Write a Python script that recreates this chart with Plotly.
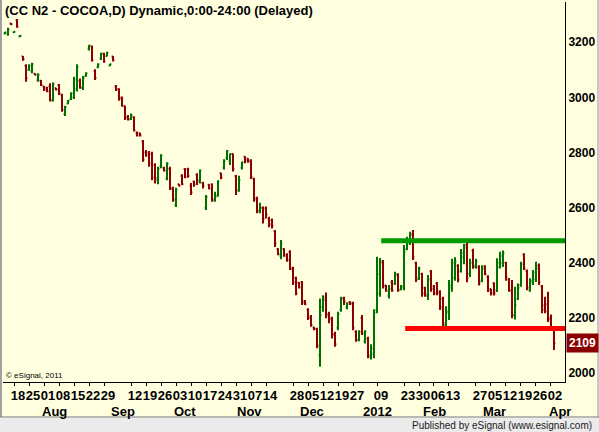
import pandas as pd
import plotly.graph_objects as go

# trading calendar (ICE cocoa closed on these weekdays)
holidays = ["2011-09-05", "2011-11-24", "2011-12-26", "2012-01-02", "2012-01-16", "2012-02-20"]
dates = [d.strftime("%Y-%m-%d") for d in pd.bdate_range("2011-07-13", "2012-04-03")
         if d.strftime("%Y-%m-%d") not in holidays]

opens = [
    3232, 3228, 3268, 3236, 3280, 3221, 3148, 3115, 3100, 3095,
    3086, 3062, 3060, 3040, 3035, 3040, 2990, 3033, 3045, 3010,
    2940, 2978, 2995, 3000, 3030, 3060, 3035, 3078, 3175, 3185,
    3095, 3110, 3140, 3158, 3150, 3116, 3148, 3040, 3030, 3000,
    2968, 2930, 2922, 2928, 2870, 2870, 2840, 2800, 2800, 2795,
    2755, 2700, 2750, 2745, 2705, 2740, 2670, 2610, 2685, 2715,
    2740, 2740, 2680, 2695, 2720, 2700, 2690, 2600, 2683, 2685,
    2625, 2645, 2725, 2745, 2780, 2770, 2795, 2715, 2665, 2745,
    2785, 2778, 2772, 2705, 2635, 2585, 2600, 2598, 2560, 2555,
    2515, 2450, 2425, 2450, 2425, 2440, 2380, 2345, 2328, 2330,
    2262, 2230, 2205, 2166, 2160, 2065, 2240, 2265, 2215, 2200,
    2140, 2165, 2230, 2272, 2238, 2258, 2255, 2150, 2120, 2200,
    2115, 2125, 2060, 2070, 2230, 2290, 2400, 2318, 2280, 2330,
    2325, 2355, 2303, 2310, 2450, 2470, 2505, 2400, 2345, 2360,
    2310, 2280, 2370, 2315, 2325, 2295, 2270, 2175, 2220, 2310,
    2345, 2390, 2370, 2420, 2465, 2360, 2445, 2385, 2385, 2335,
    2388, 2350, 2305, 2325, 2300, 2385, 2400, 2400, 2340, 2300,
    2210, 2270, 2320, 2430, 2370, 2300, 2330, 2340, 2390, 2315,
    2245, 2250, 2200, 2165,
]
highs = [
    3238, 3253, 3270, 3240, 3284, 3226, 3150, 3120, 3120, 3126,
    3088, 3088, 3063, 3041, 3039, 3051, 3054, 3035, 3049, 3013,
    2970, 2991, 3019, 3075, 3120, 3069, 3078, 3091, 3190, 3188,
    3102, 3124, 3162, 3162, 3166, 3122, 3150, 3045, 3033, 3003,
    2970, 2936, 2942, 2932, 2876, 2872, 2846, 2809, 2806, 2803,
    2761, 2749, 2794, 2749, 2765, 2749, 2676, 2672, 2686, 2721,
    2743, 2745, 2690, 2698, 2725, 2739, 2694, 2646, 2685, 2688,
    2658, 2700, 2727, 2776, 2809, 2797, 2797, 2719, 2716, 2767,
    2787, 2779, 2776, 2709, 2640, 2618, 2604, 2604, 2567, 2561,
    2519, 2453, 2483, 2453, 2435, 2446, 2386, 2350, 2331, 2334,
    2265, 2235, 2211, 2168, 2165, 2271, 2283, 2293, 2223, 2205,
    2150, 2223, 2277, 2277, 2257, 2261, 2259, 2156, 2156, 2211,
    2156, 2132, 2105, 2232, 2422, 2418, 2410, 2320, 2320, 2338,
    2368, 2362, 2320, 2465, 2495, 2513, 2519, 2404, 2386, 2364,
    2313, 2356, 2374, 2320, 2331, 2301, 2277, 2243, 2338, 2415,
    2420, 2395, 2450, 2468, 2478, 2415, 2451, 2415, 2391, 2391,
    2391, 2355, 2306, 2330, 2417, 2440, 2445, 2404, 2345, 2338,
    2313, 2325, 2404, 2435, 2376, 2344, 2374, 2404, 2398, 2320,
    2277, 2295, 2213, 2168,
]
lows = [
    3230, 3224, 3263, 3234, 3253, 3219, 3133, 3057, 3097, 3088,
    3080, 3057, 3041, 3023, 3019, 2985, 2985, 3025, 3009, 2948,
    2933, 2975, 2991, 2994, 3021, 3031, 3027, 3075, 3170, 3130,
    3063, 3106, 3136, 3126, 3148, 3114, 3130, 3023, 2988, 2966,
    2918, 2916, 2918, 2876, 2858, 2858, 2767, 2785, 2749, 2700,
    2688, 2685, 2743, 2731, 2700, 2664, 2622, 2603, 2678, 2682,
    2707, 2709, 2646, 2676, 2682, 2688, 2670, 2592, 2667, 2622,
    2622, 2640, 2703, 2739, 2773, 2755, 2731, 2646, 2658, 2739,
    2761, 2763, 2704, 2622, 2580, 2580, 2543, 2561, 2529, 2525,
    2458, 2428, 2413, 2422, 2404, 2374, 2320, 2283, 2307, 2247,
    2247, 2193, 2168, 2156, 2090, 2023, 2223, 2199, 2181, 2126,
    2096, 2156, 2223, 2247, 2232, 2247, 2156, 2114, 2116, 2138,
    2108, 2054, 2050, 2054, 2217, 2277, 2307, 2295, 2271, 2295,
    2320, 2295, 2301, 2301, 2446, 2465, 2410, 2331, 2338, 2277,
    2277, 2265, 2295, 2283, 2283, 2229, 2168, 2168, 2193, 2295,
    2335, 2330, 2365, 2395, 2330, 2349, 2379, 2379, 2318, 2330,
    2355, 2294, 2282, 2282, 2294, 2380, 2385, 2335, 2295, 2199,
    2195, 2265, 2313, 2374, 2301, 2295, 2320, 2331, 2320, 2217,
    2217, 2186, 2156, 2084,
]
closes = [
    3235, 3245, 3265, 3238, 3256, 3224, 3138, 3070, 3115, 3120,
    3082, 3082, 3045, 3028, 3022, 2990, 3050, 3029, 3015, 2955,
    2965, 2988, 3015, 3065, 3110, 3035, 3070, 3088, 3188, 3135,
    3070, 3120, 3158, 3130, 3162, 3120, 3135, 3030, 2995, 2970,
    2925, 2920, 2935, 2880, 2862, 2862, 2775, 2790, 2760, 2710,
    2708, 2740, 2790, 2735, 2760, 2670, 2630, 2665, 2680, 2685,
    2712, 2715, 2655, 2685, 2695, 2735, 2680, 2640, 2670, 2630,
    2640, 2695, 2710, 2770, 2805, 2795, 2740, 2660, 2700, 2765,
    2770, 2768, 2712, 2630, 2590, 2600, 2560, 2575, 2540, 2535,
    2470, 2432, 2470, 2430, 2410, 2380, 2330, 2290, 2312, 2255,
    2250, 2200, 2175, 2160, 2100, 2210, 2275, 2210, 2195, 2140,
    2105, 2215, 2270, 2260, 2252, 2252, 2165, 2120, 2150, 2145,
    2150, 2065, 2090, 2220, 2360, 2405, 2315, 2300, 2305, 2300,
    2360, 2300, 2315, 2440, 2485, 2500, 2420, 2340, 2380, 2290,
    2285, 2340, 2305, 2290, 2290, 2240, 2180, 2225, 2320, 2400,
    2405, 2340, 2435, 2455, 2345, 2400, 2390, 2405, 2325, 2380,
    2360, 2300, 2290, 2290, 2400, 2425, 2435, 2350, 2300, 2210,
    2245, 2310, 2395, 2380, 2310, 2335, 2365, 2380, 2330, 2230,
    2225, 2195, 2165, 2109,
]

tick_dates = [
    "2011-07-18", "2011-07-25", "2011-08-01", "2011-08-08", "2011-08-15", "2011-08-22",
    "2011-08-29", "2011-09-12", "2011-09-19", "2011-09-26", "2011-10-03", "2011-10-10",
    "2011-10-17", "2011-10-24", "2011-10-31", "2011-11-07", "2011-11-14", "2011-11-28",
    "2011-12-05", "2011-12-12", "2011-12-19", "2011-12-27", "2012-01-09", "2012-01-23",
    "2012-01-30", "2012-02-06", "2012-02-13", "2012-02-27", "2012-03-05", "2012-03-12",
    "2012-03-19", "2012-03-26", "2012-04-02",
]
month_starts = ["2011-08-01", "2011-09-01", "2011-10-03", "2011-11-01", "2011-12-01",
                "2012-01-03", "2012-02-01", "2012-03-01", "2012-04-02"]
month_labels = ["Aug", "Sep", "Oct", "Nov", "Dec", "2012", "Feb", "Mar", "Apr"]
price_ticks = [2000, 2200, 2400, 2600, 2800, 3000, 3200]

resistance, resistance_from = 2480, "2012-01-10"
support, support_from = 2162, "2012-01-23"

FONT = "Liberation Sans, Arial, sans-serif"
BG = "#FFFFE0"
x_range = [-0.67, len(dates) + 2.67]

fig = go.Figure(go.Ohlc(
    x=dates, open=opens, high=highs, low=lows, close=closes,
    increasing=dict(line=dict(color="#007000", width=2)),
    decreasing=dict(line=dict(color="#8B0000", width=2)),
    tickwidth=0.45, showlegend=False, hoverinfo="skip",
))

# hand-drawn resistance / support lines, run to the right edge
for level, start, color in [(resistance, resistance_from, "#009900"),
                            (support, support_from, "#FF0000")]:
    fig.add_shape(type="line", xref="x", yref="y", x0=dates.index(start) + 0.4, x1=x_range[1],
                  y0=level, y1=level, line=dict(color=color, width=5))

# frame: left grey edge, right edge, footer strip
fig.add_shape(type="rect", xref="paper", yref="paper", x0=-0.1, x1=-0.0018, y0=-0.092, y1=1.1,
              fillcolor="#A0A0A0", line_width=0, layer="above")
fig.add_shape(type="rect", xref="paper", yref="paper", x0=1.0569, x1=1.2, y0=-0.092, y1=1.1,
              fillcolor="#C8C8C8", line_width=0, layer="above")
fig.add_shape(type="rect", xref="paper", yref="paper", x0=-0.1, x1=1.2, y0=-0.5, y1=-0.092,
              fillcolor="#EBEBEB", line=dict(color="#808080", width=1), layer="above")

fig.add_annotation(xref="paper", yref="paper", x=0, y=1, xanchor="left", yanchor="top",
                   xshift=0, yshift=1, showarrow=False,
                   text="(CC N2 - COCOA,D) Dynamic,0:00-24:00 (Delayed)",
                   font=dict(family=FONT, size=13, color="black", weight="bold"))
for d, lab in zip(month_starts, month_labels):
    fig.add_annotation(x=d, xref="x", yref="paper", y=0, xanchor="left", yanchor="top",
                       xshift=-4, yshift=-20, showarrow=False, text=lab,
                       font=dict(family=FONT, size=13, color="black", weight="bold"))
fig.add_annotation(xref="paper", x=1, xanchor="left", xshift=1, yref="y", y=closes[-1],
                   text=str(closes[-1]), showarrow=False, bgcolor="#8B0000", borderpad=2,
                   font=dict(family=FONT, size=12, color="white", weight="bold"))
fig.add_annotation(xref="paper", yref="paper", x=0, y=0, xanchor="left", yanchor="bottom",
                   xshift=1, yshift=0, showarrow=False, text="© eSignal, 2011",
                   font=dict(family=FONT, size=8, color="black"))
fig.add_annotation(xref="paper", yref="paper", x=1, y=0, xanchor="right", yanchor="middle",
                   xshift=29, yshift=-43, showarrow=False,
                   text="Published by eSignal (www.esignal.com)",
                   font=dict(family=FONT, size=10, color="#202020"))

fig.update_xaxes(type="category", range=x_range, rangeslider_visible=False,
                 tickvals=tick_dates, ticktext=[d[-2:] for d in tick_dates], tickangle=0,
                 tickfont=dict(family=FONT, size=13, color="black", weight="bold"),
                 ticks="outside", ticklen=3, tickcolor="black", ticklabelshift=4,
                 ticklabelstandoff=-2,
                 showline=True, linecolor="black", linewidth=1, showgrid=False)
fig.update_yaxes(side="right", range=[1968, 3346], tickvals=price_ticks,
                 tickfont=dict(family=FONT, size=12, color="black", weight="bold"),
                 showline=True, linecolor="black", linewidth=1, showgrid=False,
                 zeroline=False, ticks="")
fig.update_layout(width=599, height=432, margin=dict(l=3, r=34, t=2, b=50),
                  paper_bgcolor=BG, plot_bgcolor=BG, hovermode=False)

# page body margin would push the fixed-size chart off the window
fig.write_html("out.html", config={"displayModeBar": False},
               post_script="document.body.style.margin='0';")
